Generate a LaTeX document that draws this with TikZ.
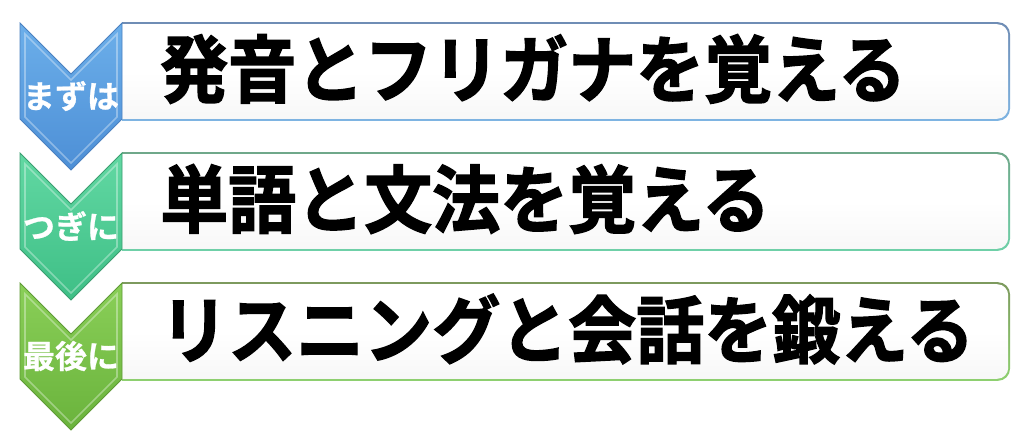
\documentclass[tikz,border=0pt]{standalone}
\usepackage{fontspec}
\newfontfamily\jpb{Noto Sans CJK JP Bold}[FakeBold=2]
\newfontfamily\jpl{Noto Sans CJK JP Bold}[FakeBold=0.8]
\definecolor{bA1}{HTML}{6CAFEA}\definecolor{bA2}{HTML}{4D8FD6}\definecolor{bAe}{HTML}{4A80C0}
\definecolor{bB1}{HTML}{62D8A3}\definecolor{bB2}{HTML}{3EBF86}\definecolor{bBe}{HTML}{3A9E70}
\definecolor{bC1}{HTML}{8ACF58}\definecolor{bC2}{HTML}{6AB33C}\definecolor{bCe}{HTML}{5E9A35}
\definecolor{rA1}{HTML}{6F8DB5}\definecolor{rA2}{HTML}{7EB4E2}
\definecolor{rB1}{HTML}{6FA88A}\definecolor{rB2}{HTML}{6FD0A8}
\definecolor{rC1}{HTML}{7D9A5E}\definecolor{rC2}{HTML}{8ED070}
\tikzset{
  bigtxt/.style={inner sep=0pt, anchor=west, text=black, yscale=1.08, transform shape, font=\jpb\fontsize{68}{68}\selectfont},
  labtxt/.style={inner sep=0pt, text=white, font=\jpl\fontsize{32}{32}\selectfont},
}
\newcommand{\steprow}[8]{%
  \begin{scope}
    \clip (122,#1-3) rectangle (1024,#1+101);
    \shade[rounded corners=12pt, top color=#5, bottom color=#6]
      (100,#1-0.8) rectangle (1010,#1+97.8);
    \shade[rounded corners=11pt, top color=white, bottom color=black!3, middle color=white]
      (100,#1+1.2) rectangle (1008.2,#1+95.8);
  \end{scope}
  \shade[top color=#2, bottom color=#3, draw=#4, line width=0.8pt, line join=miter]
    (20,#1) -- (71,#1+51) -- (122,#1) -- (122,#1+96) -- (71,#1+147) -- (20,#1+96) -- cycle;
  \draw[white, opacity=0.35, line width=1.6pt, line join=miter]
    (25,#1+11) -- (71,#1+57) -- (117,#1+11) -- (117,#1+94) -- (71,#1+140) -- (25,#1+94) -- cycle;
  \node[labtxt] (lab#1) at (71,#1+73) {#7};
  \node[bigtxt] (txt#1) at (160,#1+46) {#8};
}
\begin{document}
\begin{tikzpicture}[x=1pt,y=-1pt]
\useasboundingbox (0,0) rectangle (1024,433);
\fill[white] (0,0) rectangle (1024,433);
\steprow{23}{bA1}{bA2}{bAe}{rA1}{rA2}{まずは}{発音とフリガナを覚える}
\steprow{153}{bB1}{bB2}{bBe}{rB1}{rB2}{つぎに}{単語と文法を覚える}
\steprow{283}{bC1}{bC2}{bCe}{rC1}{rC2}{最後に}{リスニングと会話を鍛える}
\end{tikzpicture}
\end{document}
